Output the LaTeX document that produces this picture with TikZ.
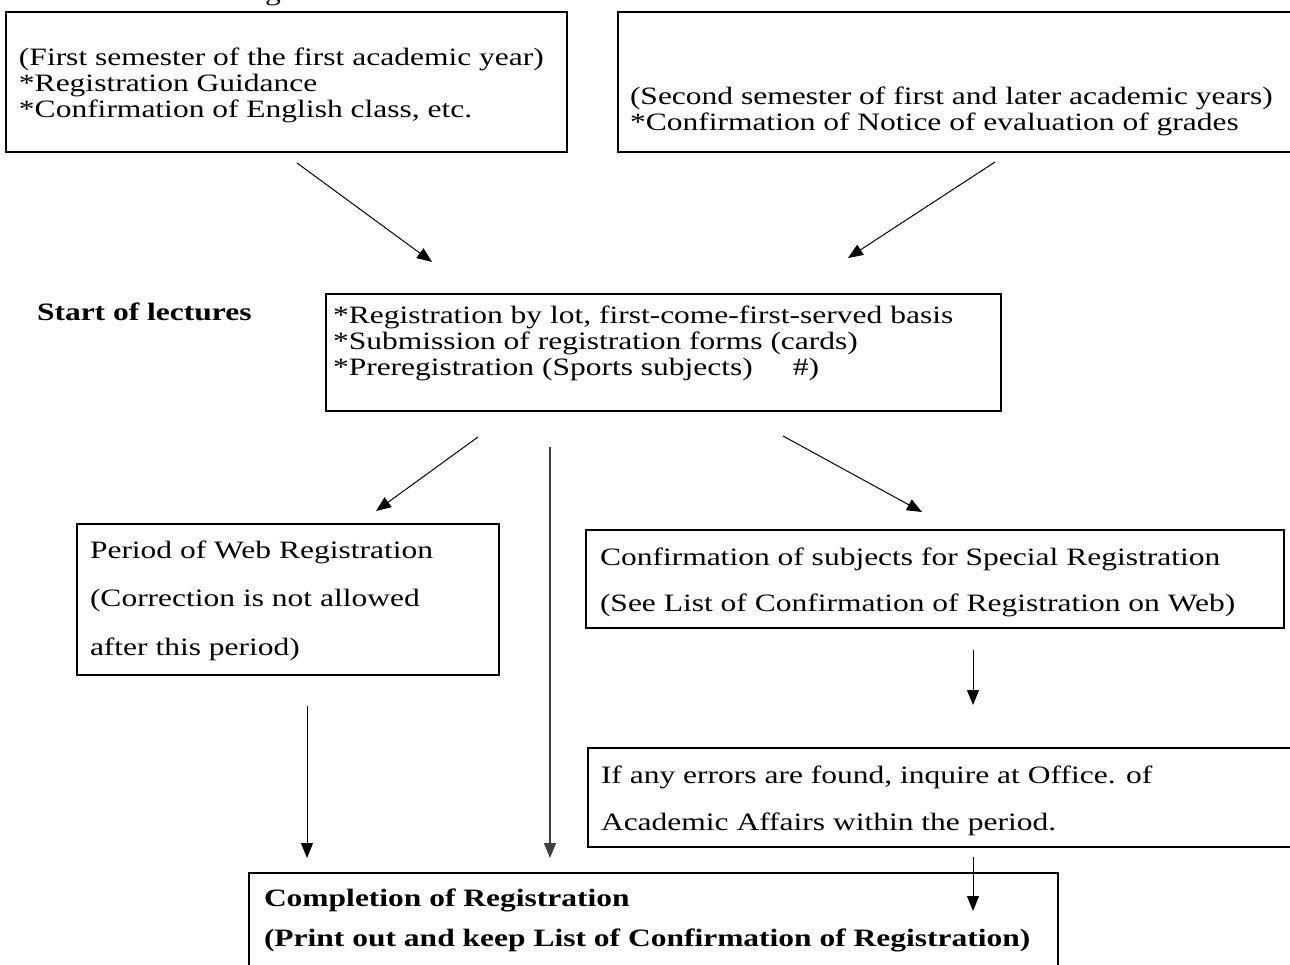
\documentclass[tikz,border=0pt]{standalone}
\usepackage{fontspec}
\setmainfont{Liberation Serif}[FakeStretch=1.26]
\usetikzlibrary{arrows.meta}
\tikzset{
  frame/.style={draw=black, line width=2.2pt, inner sep=0pt, outer sep=0pt, anchor=north west, rectangle},
  txt/.style={anchor=base west, inner sep=0pt, outer sep=0pt, font=\fontsize{25}{27}\selectfont},
  btxt/.style={anchor=base west, inner sep=0pt, outer sep=0pt, font=\fontsize{25}{27}\selectfont\bfseries},
  arr/.style={-{Triangle[length=15pt,width=12pt]}, line width=1pt, draw=black},
}
\begin{document}
\begin{tikzpicture}[x=1pt,y=-1pt]
\useasboundingbox (0,0) rectangle (1290,965);
% cut-off title fragment
\node[txt] (title) at (265,1) {g};
% boxes
\node[frame, minimum width=561pt, minimum height=140pt] (boxA) at (6,12) {};
\node[frame, minimum width=700pt, minimum height=140pt] (boxB) at (618,12) {};
\node[frame, minimum width=675pt, minimum height=117pt] (boxC) at (326,294) {};
\node[frame, minimum width=422pt, minimum height=151pt] (boxD) at (77,524) {};
\node[frame, minimum width=698pt, minimum height=98pt] (boxE) at (586,530) {};
\node[frame, minimum width=730pt, minimum height=99pt] (boxF) at (588,748) {};
\node[frame, minimum width=809pt, minimum height=130pt] (boxG) at (249,873) {};
% texts
\node[txt] (a1) at (19,66) {(First semester of the first academic year)};
\node[txt] (a2) at (19,92) {*Registration Guidance};
\node[txt] (a3) at (19,118) {*Confirmation of English class, etc.};
\node[txt] (b1) at (630,105) {(Second semester of first and later academic years)};
\node[txt] (b2) at (630,131) {*Confirmation of Notice of evaluation of grades};
\node[btxt] (start) at (37,321) {Start of lectures};
\node[txt] (c1) at (333,324) {*Registration by lot, first-come-first-served basis};
\node[txt] (c2) at (333,350) {*Submission of registration forms (cards)};
\node[txt] (c3) at (333,375) {*Preregistration (Sports subjects)\hspace{40pt}\#)};
\node[txt] (d1) at (90,558) {Period of Web Registration};
\node[txt] (d2) at (90,606) {(Correction is not allowed};
\node[txt] (d3) at (90,655) {after this period)};
\node[txt] (e1) at (600,565) {Confirmation of subjects for Special Registration};
\node[txt] (e2) at (600,611) {(See List of Confirmation of Registration on Web)};
\node[txt] (f1) at (601,783) {If any errors are found, inquire at Office. of};
\node[txt] (f2) at (601,830) {Academic Affairs within the period.};
\node[btxt] (g1) at (264,906) {Completion of Registration};
\node[btxt] (g2) at (264,946) {(Print out and keep List of Confirmation of Registration)};
% connector end points
\coordinate (p1s) at (297,163); \coordinate (p1e) at (432,262);
\coordinate (p2s) at (995,162); \coordinate (p2e) at (848,258);
\coordinate (p3s) at (478,437); \coordinate (p3e) at (376,511);
\coordinate (p4s) at (550,447); \coordinate (p4e) at (550,858);
\coordinate (p5s) at (783,436); \coordinate (p5e) at (922,512);
\coordinate (p6s) at (973,650); \coordinate (p6e) at (973,705);
\coordinate (p7s) at (973,857); \coordinate (p7e) at (973,911);
\coordinate (p8s) at (307,706); \coordinate (p8e) at (307,858);
\draw[arr] (p1s) -- (p1e);
\draw[arr] (p2s) -- (p2e);
\draw[arr] (p3s) -- (p3e);
\draw[arr, draw=black!75, line width=1.3pt] (p4s) -- (p4e);
\draw[arr] (p5s) -- (p5e);
\draw[arr] (p6s) -- (p6e);
\draw[arr] (p7s) -- (p7e);
\draw[arr] (p8s) -- (p8e);
\end{tikzpicture}
\end{document}
